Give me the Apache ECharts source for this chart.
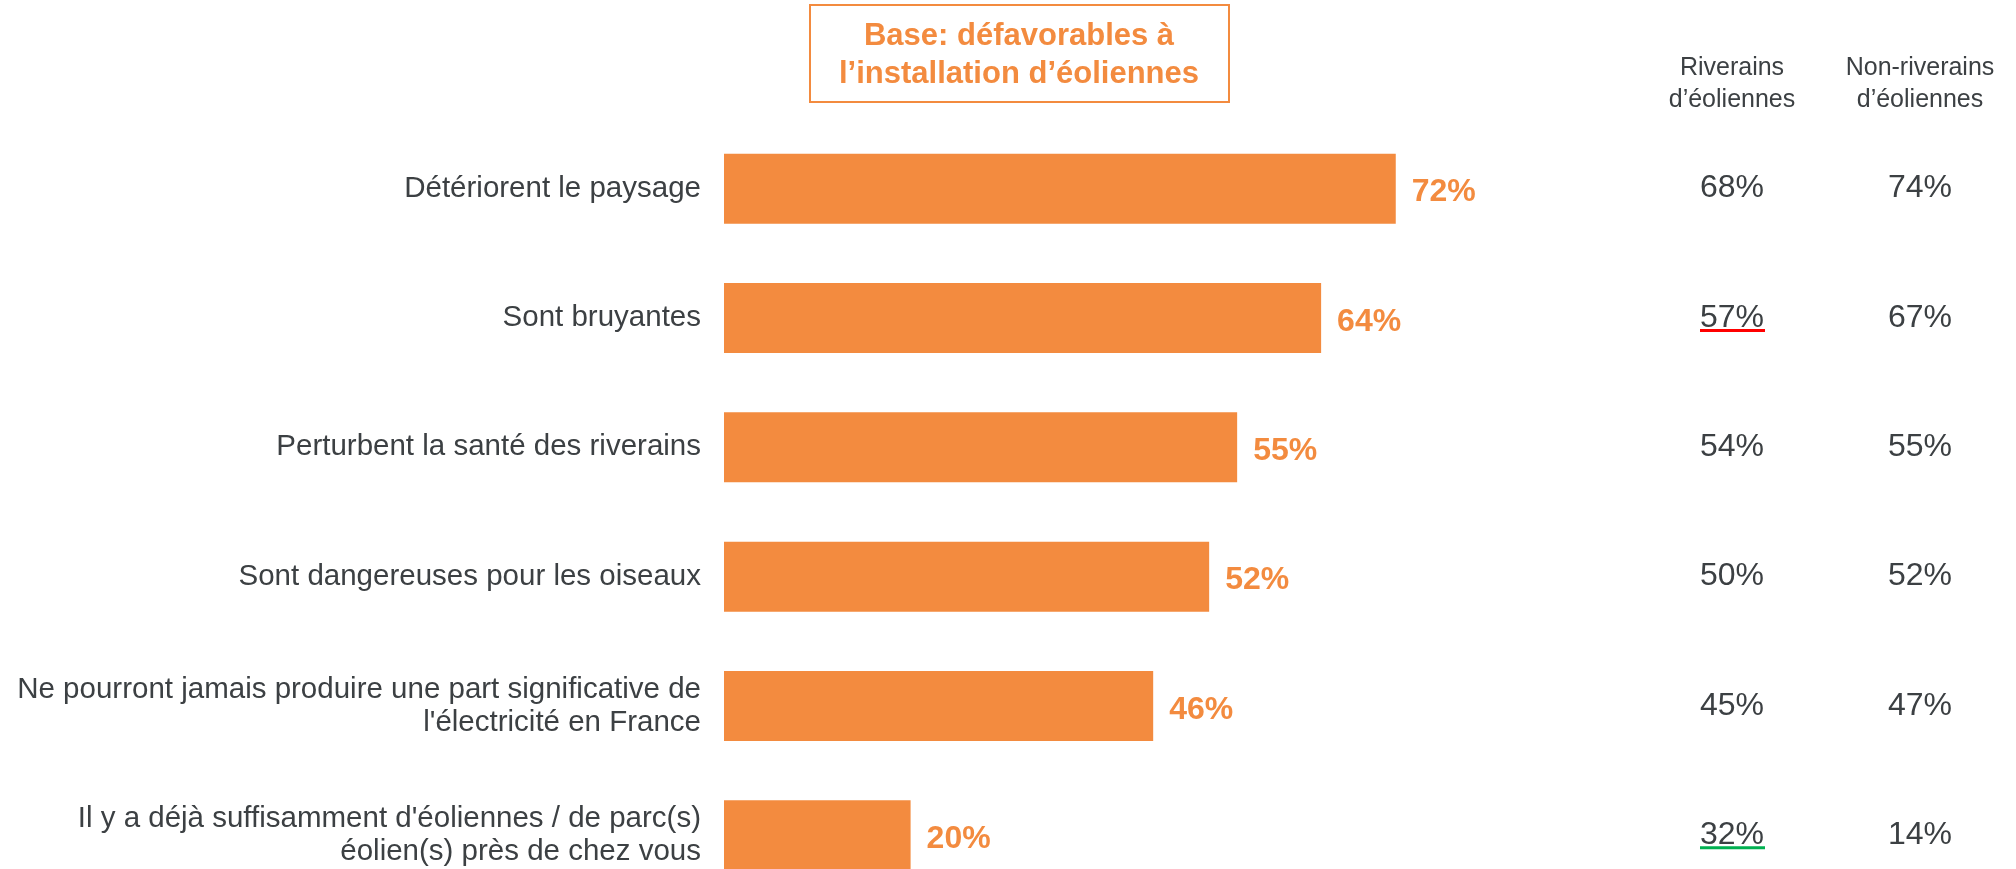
<!DOCTYPE html>
<html>
<head>
<meta charset="utf-8">
<script src="https://cdn.jsdelivr.net/npm/echarts@6/dist/echarts.min.js"></script>
<style>
  html, body { margin: 0; padding: 0; background: #fff; }
  #chart { width: 2016px; height: 869px; }
</style>
</head>
<body>
<div id="chart"></div>
<script>
// data
const categories = [
  'Détériorent le paysage',
  'Sont bruyantes',
  'Perturbent la santé des riverains',
  'Sont dangereuses pour les oiseaux',
  'Ne pourront jamais produire une part significative de\nl\'électricité en France',
  'Il y a déjà suffisamment d\'éoliennes / de parc(s)\néolien(s) près de chez vous'
];
const totalValues = [72, 64, 55, 52, 46, 20];
const riverainsValues = [68, 57, 54, 50, 45, 32];
const nonRiverainsValues = [74, 67, 55, 52, 47, 14];
const columnHeaders = ['Riverains\nd’éoliennes', 'Non-riverains\nd’éoliennes'];
const titleText = 'Base: défavorables à\nl’installation d’éoliennes';

// rows with a coloured underline in the "Riverains" column
const underlines = [
  { row: 1, color: '#ff0000' },
  { row: 5, color: '#00b050' }
];

const ORANGE = '#f38b3f';
const TEXT = '#3c4043';
const FONT = "'Liberation Sans', Arial, sans-serif";

const chart = echarts.init(document.getElementById('chart'));

function sideAxis(values, margin) {
  return {
    type: 'category',
    inverse: true,
    position: 'right',
    data: values.map((v) => v + '%'),
    axisLine: { show: false },
    axisTick: { show: false },
    axisLabel: {
      margin: margin,
      align: 'center',
      color: TEXT,
      fontSize: 32,
      fontFamily: FONT,
      padding: [0, 0, 10, 0]
    }
  };
}

const option = {
  animation: false,
  backgroundColor: '#ffffff',
  grid: { left: 724, top: 124, width: 933, height: 776, outerBoundsMode: 'none', containLabel: false },
  xAxis: { type: 'value', min: 0, max: 100, show: false },
  yAxis: [
    {
      type: 'category',
      inverse: true,
      data: categories,
      axisLine: { show: false },
      axisTick: { show: false },
      axisLabel: {
        margin: 23,
        color: TEXT,
        fontSize: 29.5,
        lineHeight: 33,
        fontFamily: FONT,
        align: 'right',
        padding: [10, 0, 0, 0]
      }
    },
    sideAxis(riverainsValues, 75),
    sideAxis(nonRiverainsValues, 263)
  ],
  series: [
    {
      type: 'bar',
      data: totalValues,
      barWidth: 70,
      itemStyle: { color: ORANGE },
      label: {
        show: true,
        position: 'right',
        distance: 16,
        offset: [0, 4],
        formatter: '{c}%',
        color: ORANGE,
        fontSize: 32,
        fontWeight: 'bold',
        fontFamily: FONT
      }
    }
  ],
  graphic: [
    {
      type: 'rect',
      shape: { x: 810, y: 5, width: 419, height: 97 },
      style: { fill: 'none', stroke: ORANGE, lineWidth: 2 }
    },
    {
      type: 'text',
      x: 1019, y: 55,
      style: {
        text: titleText,
        fill: ORANGE,
        font: 'bold 31px ' + FONT,
        lineHeight: 38,
        align: 'center',
        verticalAlign: 'middle'
      }
    },
    {
      type: 'text',
      x: 1732, y: 84,
      style: {
        text: columnHeaders[0],
        fill: TEXT,
        font: '25px ' + FONT,
        lineHeight: 32,
        align: 'center',
        verticalAlign: 'middle'
      }
    },
    {
      type: 'text',
      x: 1920, y: 84,
      style: {
        text: columnHeaders[1],
        fill: TEXT,
        font: '25px ' + FONT,
        lineHeight: 32,
        align: 'center',
        verticalAlign: 'middle'
      }
    }
  ]
};

chart.setOption(option);

// underlines placed through the category axis scale
const lines = underlines.map((u) => {
  const y = chart.convertToPixel({ yAxisIndex: 0 }, categories[u.row]);
  return {
    type: 'rect',
    shape: { x: 1700, y: y + 11, width: 65, height: 3 },
    style: { fill: u.color }
  };
});
chart.setOption({ graphic: option.graphic.concat(lines) });
</script>
</body>
</html>
